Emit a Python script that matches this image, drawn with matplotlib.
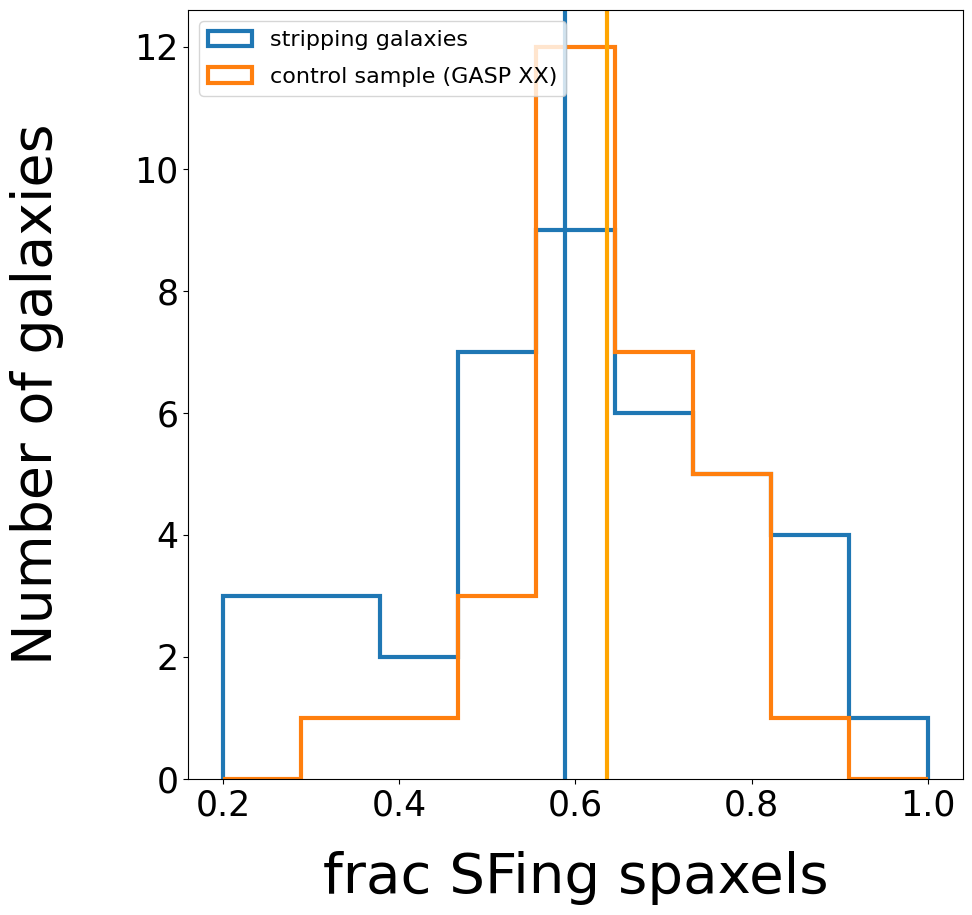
import numpy as np
import matplotlib.pyplot as plt

# bin edges shared by both samples (9 bins from 0.2 to 1.0)
bin_edges = np.linspace(0.2, 1.0, 10)

# counts per bin
stripping_counts = [3, 3, 2, 7, 9, 6, 5, 4, 1]
control_counts = [0, 1, 1, 3, 12, 7, 5, 1, 0]

# medians of the two samples
stripping_median = 0.588
control_median = 0.636

labels = ["stripping galaxies", "control sample (GASP XX)"]

centres = 0.5 * (bin_edges[:-1] + bin_edges[1:])

fig = plt.figure(figsize=(9.72, 9.15), dpi=100)
ax = fig.add_axes([0.1934, 0.1486, 0.7973, 0.8404])

ax.hist(centres, bins=bin_edges, weights=stripping_counts, histtype="step",
        lw=3, color="tab:blue", label=labels[0])
ax.hist(centres, bins=bin_edges, weights=control_counts, histtype="step",
        lw=3, color="tab:orange", label=labels[1])
ax.axvline(stripping_median, color="tab:blue", lw=3)
ax.axvline(control_median, color="orange", lw=3)

ax.set_xlabel("frac SFing spaxels", fontsize=40.5, labelpad=20)
ax.set_ylabel("Number of galaxies", fontsize=40, labelpad=50)
ax.tick_params(labelsize=25)
ax.legend(loc="upper left", fontsize=16, labelspacing=0.75)

fig.savefig("out.png", dpi=100)
